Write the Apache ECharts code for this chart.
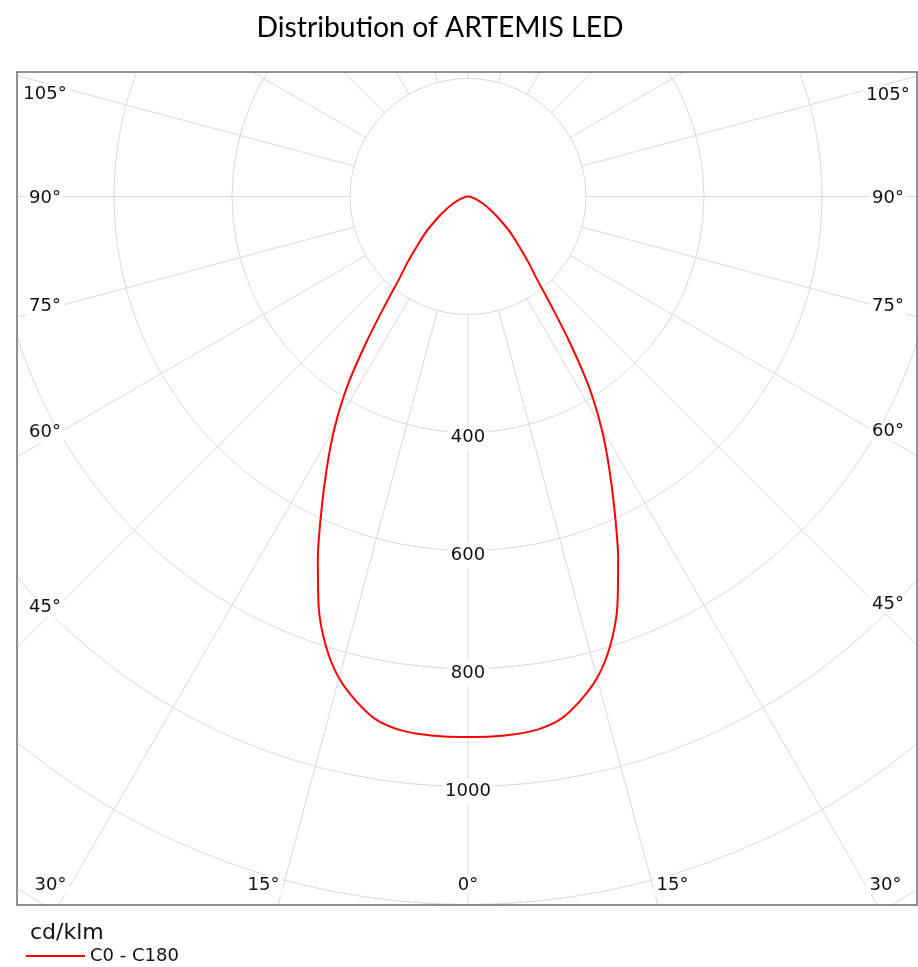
<!DOCTYPE html>
<html>
<head>
<meta charset="utf-8">
<title>Distribution of ARTEMIS LED</title>
<script src="https://cdn.jsdelivr.net/npm/echarts@6/dist/echarts.min.js"></script>
<style>
  html, body { margin: 0; padding: 0; background: #fff; }
  #chart { width: 918px; height: 967px; }
</style>
</head>
<body>
<div id="chart"></div>
<script>
// gamma angle from nadir (deg) and C0 - C180 intensity (cd/klm)
const gammaAngles = [0, 2.5, 5, 7.5, 10, 12.5, 15, 17.5, 20, 22.5, 25, 27.5, 30, 32.5, 35, 37.5, 40, 42.5, 45, 50, 55, 60, 65, 70, 75, 80, 85, 90];
const intensity = [916, 916, 915, 911, 900, 876, 845, 800, 740, 665, 588, 518, 452, 380, 298, 228, 180, 152, 127, 92, 62, 42, 27, 16, 9, 5, 2, 0];

const radiusLabelValues = [400, 600, 800, 1000];
const angleLabelValues = [0, 15, 30, 45, 60, 75, 90, 105];

const TITLE = 'Distribution of ARTEMIS LED';
const UNIT = 'cd/klm';
const SERIES_NAME = 'C0 - C180';

const FONT = '"DejaVu Sans", Verdana, sans-serif';
const GRID = '#d8d8d8';
const TEXT = '#111';

// layout
const CX = 468, CY = 196.5;
const R_MAX = 1600, R_PX = 944;      // radius axis max and its pixel radius
const INNER = 200;                   // grid spokes start at this circle
const FRAME = { x: 17, y: 72, w: 900, h: 833 };

const chart = echarts.init(document.getElementById('chart'));

// closed curve: C180 half on the left, C0 half on the right
const curve = [];
gammaAngles.forEach((g, i) => curve.push([intensity[i], g]));
for (let i = gammaAngles.length - 1; i >= 0; i--) {
  curve.push([intensity[i], 360 - gammaAngles[i]]);
}

function labelPos(g, side) {
  const t = g * Math.PI / 180;
  if (g <= 30) {
    const y = 885;
    return [CX + side * ((y - CY) * Math.tan(t) + (g ? 20 : 0)), y];
  }
  const x = side < 0 ? 45 : 888;
  const dx = Math.abs(x - CX);
  return [x, CY + dx / Math.tan(t) - 20 * Math.cos(t) + 2 + (g > 90 ? 4 : 0)];
}

chart.setOption({
  backgroundColor: '#fff',
  animation: false,
  polar: {
    center: [CX, CY],
    radius: [0, R_PX]
  },
  angleAxis: {
    type: 'value',
    min: 0,
    max: 360,
    interval: 15,
    startAngle: 270,
    clockwise: true,
    z: 1,
    axisLine: { show: false },
    axisTick: { show: false },
    axisLabel: { show: false },
    splitLine: { lineStyle: { color: GRID, width: 1 } }
  },
  radiusAxis: {
    type: 'value',
    min: 0,
    max: R_MAX,
    interval: 200,
    z: 3,
    axisLine: { show: false },
    axisTick: { show: false },
    axisLabel: { show: false },
    splitLine: { lineStyle: { color: GRID, width: 1 } }
  },
  legend: {
    z: 60,
    left: 26,
    top: 947,
    padding: 0,
    icon: 'rect',
    itemWidth: 59,
    itemHeight: 2,
    itemGap: 5,
    textStyle: { fontSize: 18, fontFamily: FONT, color: TEXT },
    data: [SERIES_NAME]
  },
  series: [{
    name: SERIES_NAME,
    type: 'line',
    coordinateSystem: 'polar',
    z: 4,
    clip: false,
    smooth: 0.3,
    symbol: 'none',
    lineStyle: { color: '#ff0000', width: 2 },
    itemStyle: { color: '#ff0000' },
    data: curve
  }]
});

const graphics = [
  // blank disc inside the first circle (spokes start there)
  { type: 'circle', z: 2, silent: true,
    shape: { cx: CX, cy: CY, r: INNER / R_MAX * R_PX }, style: { fill: '#fff' } },
  // white masks outside the frame
  { type: 'rect', z: 50, silent: true, shape: { x: 0, y: 0, width: 918, height: FRAME.y }, style: { fill: '#fff' } },
  { type: 'rect', z: 50, silent: true, shape: { x: 0, y: FRAME.y + FRAME.h, width: 918, height: 967 }, style: { fill: '#fff' } },
  { type: 'rect', z: 50, silent: true, shape: { x: 0, y: 0, width: FRAME.x, height: 967 }, style: { fill: '#fff' } },
  { type: 'rect', z: 50, silent: true, shape: { x: FRAME.x + FRAME.w, y: 0, width: 20, height: 967 }, style: { fill: '#fff' } },
  { type: 'rect', z: 51, silent: true, shape: { x: FRAME.x, y: FRAME.y, width: FRAME.w, height: FRAME.h },
    style: { fill: 'none', stroke: '#6d6d6d', lineWidth: 1.5 } },
  { type: 'text', z: 52, x: 440, y: 28,
    style: { text: TITLE, font: '28.3px Lato, sans-serif', fill: '#000', align: 'center', verticalAlign: 'middle' } },
  { type: 'text', z: 52, x: 30, y: 933,
    style: { text: UNIT, font: '22px ' + FONT, fill: TEXT, align: 'left', verticalAlign: 'middle' } }
];

// radius labels along the 0° spoke, placed through the polar scale
radiusLabelValues.forEach(v => {
  const p = chart.convertToPixel({ polarIndex: 0 }, [v, 0]);
  graphics.push({
    type: 'text', z: 5, x: p[0], y: p[1] + 5,
    style: {
      text: String(v), font: '18px ' + FONT, fill: TEXT,
      align: 'center', verticalAlign: 'middle',
      backgroundColor: '#fff', padding: [4, 3]
    }
  });
});

angleLabelValues.forEach(g => {
  const sides = g === 0 ? [1] : [-1, 1];
  sides.forEach(side => {
    const p = labelPos(g, side);
    graphics.push({
      type: 'text', z: 52, x: p[0], y: p[1],
      style: {
        text: g + '°', font: '18px ' + FONT, fill: TEXT,
        align: 'center', verticalAlign: 'middle',
        backgroundColor: '#fff', padding: [1, 3]
      }
    });
  });
});

chart.setOption({ graphic: graphics });
</script>
</body>
</html>
